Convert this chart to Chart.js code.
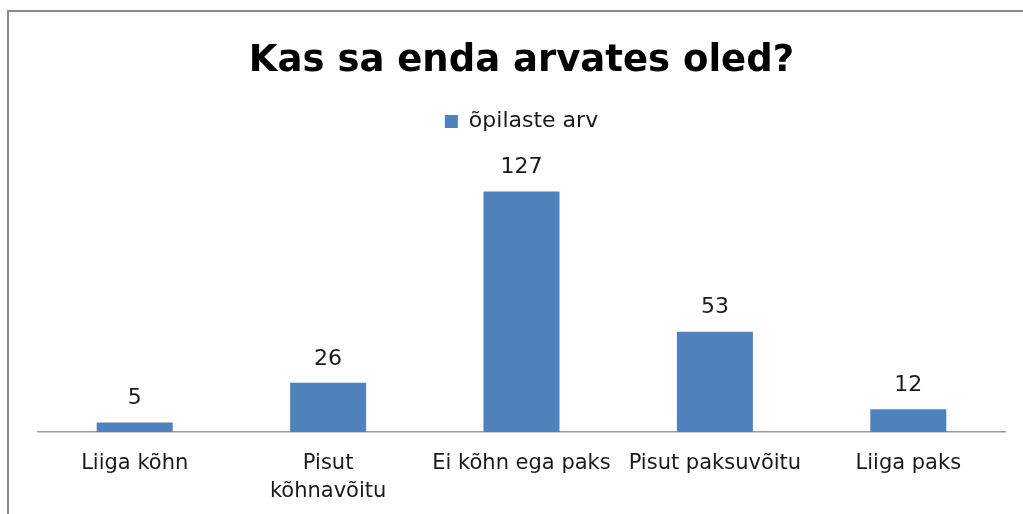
<!DOCTYPE html>
<html>
<head>
<meta charset="utf-8">
<script src="https://cdn.jsdelivr.net/npm/chart.js@4/dist/chart.umd.min.js"></script>
<style>
  html, body { margin: 0; padding: 0; background: #fff; }
  #wrap { width: 1023px; height: 514px; position: relative; }
</style>
</head>
<body>
<div id="wrap"><canvas id="chart"></canvas></div>
<script>
const categories = ['Liiga kõhn', ['Pisut', 'kõhnavõitu'], 'Ei kõhn ega paks', 'Pisut paksuvõitu', 'Liiga paks'];
const seriesName = 'õpilaste arv';
const counts = [5, 26, 127, 53, 12];

const textFont = "'DejaVu Sans', Verdana, sans-serif";

// frame border cut by the picture on the right and bottom
const framePlugin = {
  id: 'frame',
  beforeDraw(chart) {
    const ctx = chart.ctx;
    ctx.save();
    ctx.fillStyle = '#fff';
    ctx.fillRect(0, 0, chart.width, chart.height);
    ctx.strokeStyle = '#8a8a8a';
    ctx.lineWidth = 2;
    ctx.beginPath();
    ctx.moveTo(8, chart.height + 5);
    ctx.lineTo(8, 11);
    ctx.lineTo(chart.width + 5, 11);
    ctx.stroke();
    ctx.restore();
  }
};

// value labels above each bar
const valueLabels = {
  id: 'valueLabels',
  afterDatasetsDraw(chart) {
    const ctx = chart.ctx;
    const meta = chart.getDatasetMeta(0);
    ctx.save();
    ctx.font = '22px ' + textFont;
    ctx.fillStyle = '#1a1a1a';
    ctx.textAlign = 'center';
    ctx.textBaseline = 'middle';
    meta.data.forEach((bar, i) => {
      ctx.fillText(String(counts[i]), bar.x, bar.y - 24);
    });
    ctx.restore();
  }
};

new Chart(document.getElementById('chart'), {
  type: 'bar',
  data: {
    labels: categories,
    datasets: [{
      label: seriesName,
      data: counts,
      backgroundColor: '#4f81bd',
      borderWidth: 0,
      categoryPercentage: 1,
      barPercentage: 0.393
    }]
  },
  options: {
    responsive: true,
    maintainAspectRatio: false,
    animation: false,
    layout: { padding: { top: 22, left: 38, right: 18, bottom: 0 } },
    plugins: {
      title: {
        display: true,
        text: 'Kas sa enda arvates oled?',
        color: '#000',
        font: { family: textFont, size: 37, weight: 'bold' },
        padding: { top: 17, bottom: 0 }
      },
      legend: {
        display: true,
        labels: {
          color: '#1a1a1a',
          font: { family: textFont, size: 22 },
          boxWidth: 13,
          boxHeight: 13,
          padding: 27
        }
      },
      tooltip: { enabled: false }
    },
    scales: {
      x: {
        grid: { display: false, drawTicks: false },
        border: { display: true, color: '#9a9a9a', width: 1.5 },
        ticks: {
          color: '#1a1a1a',
          font: { family: textFont, size: 21, lineHeight: 1.35 },
          padding: 17,
          maxRotation: 0,
          autoSkip: false
        },
        afterFit(scale) { scale.height = 82; }
      },
      y: {
        display: false,
        min: 0,
        max: 153
      }
    }
  },
  plugins: [framePlugin, valueLabels]
});
</script>
</body>
</html>
